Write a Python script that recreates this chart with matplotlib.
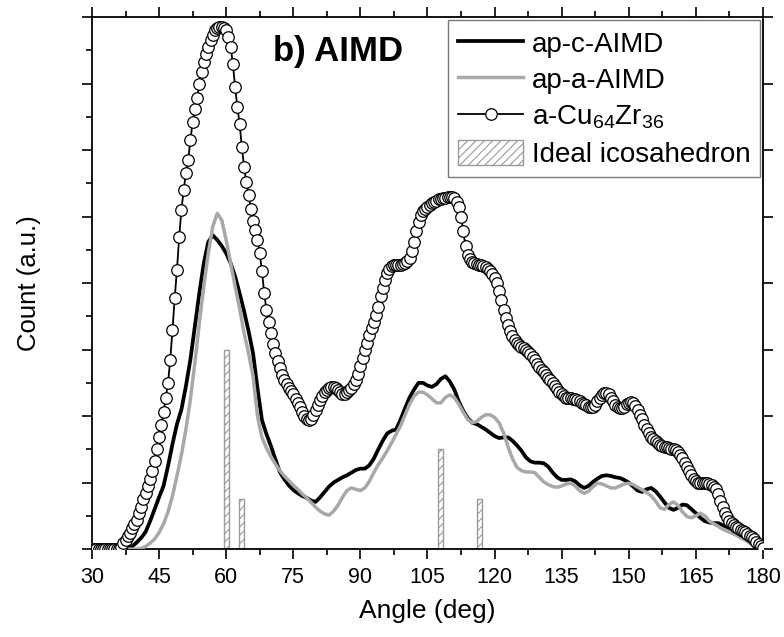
"""
Bond-angle distribution, panel b) AIMD
"""
import numpy as np
import matplotlib.pyplot as plt
from matplotlib.ticker import MultipleLocator

# ── DATA ─────────────────────────────────────────────────────────────────────
# angle grids (deg)
angle_fine   = np.arange(30, 180.25, 0.5)     # a-Cu64Zr36 sampled every 0.5 deg
angle_coarse = np.arange(30, 181, 1)          # AIMD curves, 1 deg

# a-Cu64Zr36 (open circles), 30.0 ... 180.0 step 0.5
cuzr = [
    0, 0, 0, 0, 0, 0, 0, 0, 0, 0,
    0, 0, 0, 0.03, 0.09, 0.14, 0.19, 0.24, 0.31, 0.37,
    0.44, 0.54, 0.64, 0.75, 0.85, 0.95, 1.05, 1.17, 1.32, 1.50,
    1.68, 1.86, 2.06, 2.28, 2.50, 2.85, 3.30, 3.78, 4.20, 4.70,
    5.10, 5.40, 5.65, 5.85, 6.15, 6.42, 6.62, 6.78, 7.00, 7.18,
    7.32, 7.44, 7.55, 7.65, 7.73, 7.80, 7.84, 7.86, 7.86, 7.84,
    7.80, 7.70, 7.55, 7.30, 6.95, 6.65, 6.40, 6.05, 5.75, 5.52,
    5.33, 5.12, 4.94, 4.80, 4.65, 4.45, 4.18, 3.85, 3.60, 3.42,
    3.25, 3.08, 2.95, 2.83, 2.72, 2.62, 2.55, 2.48, 2.42, 2.38,
    2.33, 2.26, 2.20, 2.13, 2.06, 2.00, 1.96, 1.94, 1.96, 2.02,
    2.09, 2.17, 2.24, 2.30, 2.36, 2.40, 2.43, 2.44, 2.44, 2.42,
    2.39, 2.36, 2.34, 2.34, 2.36, 2.39, 2.43, 2.48, 2.54, 2.64,
    2.76, 2.88, 3.00, 3.10, 3.22, 3.32, 3.42, 3.52, 3.64, 3.80,
    3.93, 4.05, 4.15, 4.22, 4.26, 4.28, 4.28, 4.28, 4.28, 4.29,
    4.30, 4.33, 4.38, 4.48, 4.62, 4.78, 4.92, 5.02, 5.08, 5.12,
    5.15, 5.18, 5.20, 5.22, 5.24, 5.26, 5.27, 5.28, 5.28, 5.29,
    5.30, 5.30, 5.28, 5.22, 5.14, 5.00, 4.78, 4.56, 4.43, 4.36,
    4.32, 4.30, 4.29, 4.28, 4.27, 4.26, 4.24, 4.22, 4.18, 4.14,
    4.08, 4.00, 3.88, 3.74, 3.60, 3.48, 3.37, 3.28, 3.20, 3.14,
    3.10, 3.07, 3.04, 3.02, 2.99, 2.96, 2.93, 2.89, 2.84, 2.79,
    2.74, 2.70, 2.66, 2.62, 2.58, 2.54, 2.50, 2.45, 2.41, 2.37,
    2.33, 2.30, 2.28, 2.27, 2.27, 2.26, 2.25, 2.24, 2.22, 2.20,
    2.18, 2.16, 2.14, 2.13, 2.14, 2.17, 2.22, 2.28, 2.32, 2.35,
    2.35, 2.33, 2.28, 2.22, 2.17, 2.13, 2.12, 2.12, 2.14, 2.18,
    2.20, 2.21, 2.19, 2.15, 2.09, 2.02, 1.95, 1.87, 1.80, 1.74,
    1.69, 1.65, 1.62, 1.59, 1.57, 1.55, 1.54, 1.53, 1.52, 1.51,
    1.50, 1.49, 1.46, 1.42, 1.37, 1.30, 1.23, 1.17, 1.11, 1.06,
    1.02, 1.00, 0.99, 0.99, 0.99, 0.99, 0.98, 0.97, 0.94, 0.90,
    0.83, 0.73, 0.63, 0.55, 0.48, 0.43, 0.39, 0.36, 0.33, 0.31,
    0.29, 0.27, 0.25, 0.23, 0.20, 0.18, 0.15, 0.11, 0.08, 0.05,
    0.02,
]

# ap-c-AIMD (black), 30 ... 180 step 1
ap_c = [
    0, 0, 0, 0, 0, 0, 0, 0, 0, 0.04,
    0.10, 0.17, 0.26, 0.42, 0.60, 0.78, 0.95, 1.25, 1.58, 1.88,
    2.10, 2.45, 2.85, 3.35, 3.85, 4.30, 4.62, 4.72, 4.65, 4.56,
    4.45, 4.30, 4.10, 3.85, 3.58, 3.28, 2.95, 2.42, 1.94, 1.73,
    1.55, 1.35, 1.16, 1.05, 0.96, 0.89, 0.84, 0.80, 0.77, 0.73,
    0.71, 0.78, 0.86, 0.94, 1.00, 1.04, 1.08, 1.11, 1.15, 1.19,
    1.21, 1.21, 1.26, 1.36, 1.50, 1.63, 1.74, 1.78, 1.80, 1.95,
    2.12, 2.28, 2.40, 2.50, 2.50, 2.46, 2.44, 2.48, 2.56, 2.60,
    2.52, 2.40, 2.22, 2.08, 1.97, 1.90, 1.88, 1.84, 1.80, 1.75,
    1.70, 1.67, 1.68, 1.68, 1.63, 1.56, 1.48, 1.38, 1.32, 1.30,
    1.30, 1.29, 1.24, 1.15, 1.08, 1.04, 1.04, 1.05, 1.02, 0.96,
    0.92, 0.95, 1.01, 1.06, 1.10, 1.11, 1.10, 1.08, 1.07, 1.04,
    1.00, 0.94, 0.88, 0.86, 0.90, 0.92, 0.87, 0.79, 0.70, 0.62,
    0.59, 0.62, 0.67, 0.66, 0.60, 0.54, 0.47, 0.42, 0.40, 0.39,
    0.39, 0.36, 0.33, 0.30, 0.27, 0.23, 0.18, 0.14, 0.10, 0.05,
    0.02,
]

# ap-a-AIMD (grey), 30 ... 180 step 1
ap_a = [
    0, 0, 0, 0, 0, 0, 0, 0, 0, 0,
    0, 0.01, 0.04, 0.09, 0.15, 0.25, 0.38, 0.56, 0.80, 1.10,
    1.42, 1.80, 2.25, 2.80, 3.40, 3.95, 4.45, 4.85, 5.05, 4.95,
    4.65, 4.30, 3.95, 3.62, 3.25, 2.95, 2.60, 2.00, 1.68, 1.52,
    1.39, 1.28, 1.18, 1.10, 1.03, 0.96, 0.90, 0.83, 0.77, 0.70,
    0.63, 0.57, 0.53, 0.51, 0.57, 0.66, 0.78, 0.88, 0.92, 0.90,
    0.88, 0.92, 1.02, 1.15, 1.27, 1.37, 1.48, 1.60, 1.73, 1.86,
    2.02, 2.18, 2.30, 2.36, 2.36, 2.32, 2.26, 2.20, 2.20, 2.28,
    2.32, 2.28, 2.18, 2.06, 1.95, 1.90, 1.92, 1.98, 2.02, 2.02,
    1.98, 1.90, 1.75, 1.54, 1.36, 1.23, 1.18, 1.16, 1.16, 1.15,
    1.08, 1.01, 0.97, 0.94, 0.93, 0.95, 0.98, 0.99, 0.95, 0.88,
    0.84, 0.87, 0.94, 0.99, 0.98, 0.95, 0.92, 0.92, 0.95, 0.98,
    0.99, 0.97, 0.93, 0.89, 0.85, 0.80, 0.72, 0.62, 0.60, 0.67,
    0.71, 0.66, 0.56, 0.49, 0.47, 0.50, 0.54, 0.50, 0.42, 0.38,
    0.34, 0.30, 0.27, 0.24, 0.21, 0.17, 0.14, 0.09, 0.06, 0.03,
    0.02,
]

# ideal icosahedron angles
ico_angle  = [60.0, 63.4, 108.0, 116.6]
ico_height = [3.0, 0.75, 1.5, 0.75]

# ── FIGURE ───────────────────────────────────────────────────────────────────
plt.rcParams['font.family'] = ['Liberation Sans', 'DejaVu Sans']
plt.rcParams['hatch.linewidth'] = 0.8

fig = plt.figure(figsize=(7.84, 6.37), dpi=100)
ax = fig.add_axes([0.1173, 0.138, 0.8559, 0.835])

ax.plot(angle_coarse, ap_c, color='black', lw=2.7, label='ap-c-AIMD', zorder=3)
ax.plot(angle_coarse, ap_a, color='#a8a8a8', lw=2.5, label='ap-a-AIMD', zorder=3)
ax.plot(angle_fine, cuzr, color='black', lw=1.3, marker='o', ms=8.3,
        mfc='white', mec='black', mew=0.9,
        label=r'a-Cu$_{\mathregular{64}}$Zr$_{\mathregular{36}}$', zorder=4)
ax.bar(ico_angle, ico_height, width=1.1, facecolor='white', edgecolor='#9a9a9a',
       hatch='////', lw=1.0, label='Ideal icosahedron', zorder=2)

ax.set_xlim(30, 180)
ax.set_ylim(0, 8)
ax.xaxis.set_major_locator(MultipleLocator(15))
ax.xaxis.set_minor_locator(MultipleLocator(7.5))
ax.yaxis.set_major_locator(MultipleLocator(1))
ax.yaxis.set_minor_locator(MultipleLocator(0.5))

ax.tick_params(which='both', direction='out', width=1.2, top=True, right=True,
               labelleft=False)
ax.tick_params(which='major', length=7)
ax.tick_params(which='minor', length=4, right=False)
ax.tick_params(axis='x', which='major', pad=6, labelsize=15.5)
for sp in ax.spines.values():
    sp.set_linewidth(1.3)

ax.set_xlabel('Angle (deg)', fontsize=19, labelpad=8)
ax.set_ylabel('Count (a.u.)', fontsize=18.5, labelpad=30)

ax.text(0.2695, 0.935, 'b) AIMD', transform=ax.transAxes, fontsize=25,
        fontweight='bold', ha='left', va='center')

leg = ax.legend(loc='upper right', bbox_to_anchor=(0.9955, 0.994),
                borderaxespad=0, fontsize=20, frameon=True, fancybox=False,
                edgecolor='#7a7a7a', framealpha=1, handlelength=2.35,
                handleheight=1.0, handletextpad=0.3, labelspacing=0.3,
                borderpad=0.35)
leg.get_frame().set_linewidth(1.0)

fig.savefig('out.png', dpi=100)
